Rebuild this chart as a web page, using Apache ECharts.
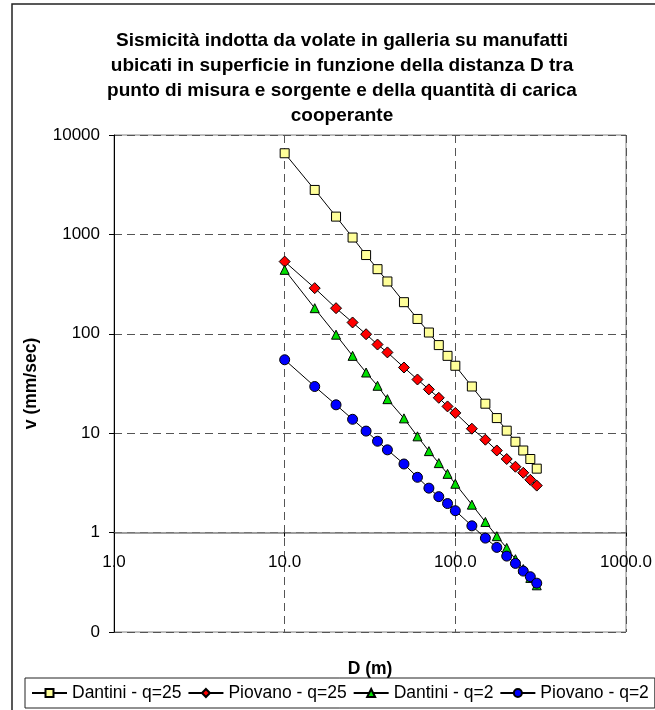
<!DOCTYPE html>
<html lang="it">
<head>
    <meta charset="UTF-8">
    <title>Sismicità indotta da volate in galleria</title>
    <script type="text/javascript" src="https://cdn.jsdelivr.net/npm/echarts@6/dist/echarts.min.js"></script>
    <style>
        html, body { margin: 0; padding: 0; background: #fff; }
    </style>
</head>
<body>
<div id="chart" style="width: 655px;height:710px;"></div>
<script>
    // distanza D (m)
    var distanze = [10, 15, 20, 25, 30, 35, 40, 50, 60, 70, 80, 90, 100, 125, 150, 175, 200, 225, 250, 275, 300];
    // velocità v (mm/sec)
    var dantiniQ25 = [6550, 2800, 1510, 930, 620, 447, 336, 208, 141, 103, 77, 60, 47.7, 29.5, 19.8, 14.2, 10.6, 8.2, 6.7, 5.5, 4.4];
    var piovanoQ25 = [533, 288, 181, 130, 99, 78, 65, 45.8, 34.7, 27.6, 22.7, 18.6, 16.0, 11.1, 8.6, 6.7, 5.5, 4.6, 4.0, 3.4, 2.97];
    var dantiniQ2 = [440, 181, 98, 60, 40.8, 30, 22, 14.1, 9.3, 6.6, 5.0, 3.9, 3.1, 1.91, 1.28, 0.92, 0.70, 0.54, 0.43, 0.35, 0.295];
    var piovanoQ2 = [54.8, 29.5, 19.3, 13.8, 10.5, 8.3, 6.8, 4.9, 3.6, 2.8, 2.3, 1.96, 1.66, 1.17, 0.88, 0.71, 0.58, 0.49, 0.41, 0.36, 0.31];
    var nomiSerie = ['Dantini - q=25', 'Piovano - q=25', 'Dantini - q=2', 'Piovano - q=2'];

    var font = "'Liberation Sans', Arial, sans-serif";

    function coppie(ys) {
        var out = [];
        for (var i = 0; i < distanze.length; i++) out.push([distanze[i], ys[i]]);
        return out;
    }

    function serie(nome, ys, symbol, size, colore) {
        return {
            name: nome,
            type: 'line',
            data: coppie(ys),
            symbol: symbol,
            symbolSize: size,
            showAllSymbol: true,
            lineStyle: {color: '#000', width: 1},
            itemStyle: {color: colore, borderColor: '#000', borderWidth: 1},
            emphasis: {disabled: true}
        };
    }

    var option = {
        animation: false,
        textStyle: {fontFamily: font},
        graphic: [{
            type: 'rect',
            shape: {x: 12, y: 4, width: 700, height: 720},
            style: {fill: 'none', stroke: '#222', lineWidth: 1.5},
            silent: true
        }],
        title: {
            text: 'Sismicità indotta da volate in galleria su manufatti\nubicati in superficie in funzione della distanza D tra\npunto di misura e sorgente e della quantità di carica\ncooperante',
            left: 342,
            textAlign: 'center',
            top: 28,
            padding: 0,
            textStyle: {
                fontFamily: font,
                fontSize: 19,
                fontWeight: 'bold',
                color: '#000',
                lineHeight: 25
            }
        },
        grid: {
            left: 114,
            top: 135,
            width: 513,
            height: 497,
            show: true,
            borderColor: '#808080',
            borderWidth: 1,
            containLabel: false
        },
        legend: {
            data: nomiSerie,
            left: 25,
            top: 678,
            padding: [6, 6, 6, 6],
            itemGap: 6,
            itemWidth: 35,
            itemHeight: 10,
            borderColor: '#222',
            borderWidth: 1,
            textStyle: {fontFamily: font, fontSize: 17.5, color: '#000'}
        },
        xAxis: {
            type: 'log',
            logBase: 10,
            min: 1,
            max: 1000,
            position: 'bottom',
            offset: -99.4,
            name: 'D (m)',
            nameLocation: 'middle',
            nameGap: 128,
            nameTextStyle: {fontFamily: font, fontSize: 17.5, fontWeight: 'bold', color: '#000'},
            axisLine: {onZero: false, lineStyle: {color: '#808080', width: 1.5}},
            axisTick: {show: true, inside: false, length: 4, lineStyle: {color: '#000'}},
            axisLabel: {
                margin: 21,
                fontFamily: font,
                fontSize: 17,
                color: '#000',
                formatter: function (v) { return (Math.round(v * 10) / 10).toFixed(1); }
            },
            splitLine: {show: true, lineStyle: {color: '#555', width: 1, type: [8, 5]}}
        },
        yAxis: {
            type: 'log',
            logBase: 10,
            min: 0.1,
            max: 10000,
            name: 'v (mm/sec)',
            nameLocation: 'middle',
            nameGap: 74,
            nameTextStyle: {fontFamily: font, fontSize: 17.5, fontWeight: 'bold', color: '#000'},
            axisLine: {show: true, onZero: false, lineStyle: {color: '#000', width: 1}},
            axisTick: {show: true, inside: false, length: 5, lineStyle: {color: '#000'}},
            axisLabel: {
                margin: 14,
                fontFamily: font,
                fontSize: 17,
                color: '#000',
                formatter: function (v) { return v < 1 ? '0' : String(Math.round(v)); }
            },
            splitLine: {show: true, lineStyle: {color: '#555', width: 1, type: [8, 5]}}
        },
        series: [
            serie(nomiSerie[0], dantiniQ25, 'rect', 9, '#FFFF99'),
            serie(nomiSerie[1], piovanoQ25, 'diamond', 11, '#FF0000'),
            serie(nomiSerie[2], dantiniQ2, 'triangle', 9, '#00E000'),
            serie(nomiSerie[3], piovanoQ2, 'circle', 10, '#0000FF')
        ]
    };

    var myChart = echarts.init(document.getElementById('chart'));
    myChart.setOption(option);
</script>
</body>
</html>
